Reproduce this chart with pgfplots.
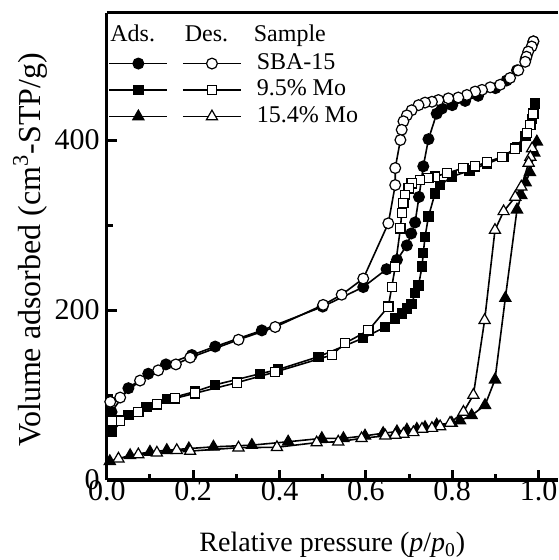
\documentclass[border=0pt]{standalone}
\usepackage{pgfplots}
\pgfplotsset{compat=1.18}
\usepackage{fontspec}
\setmainfont{Liberation Serif}
\begin{document}
\fontsize{14}{16}\selectfont
\begin{tikzpicture}
\begin{axis}[
 scale only axis, width=225.6pt, height=233.75pt,
 xmin=0, xmax=1.045, ymin=0, ymax=550,
 axis lines=left, axis line style={-, line width=1.5pt},
 clip=false,
 xtick={0,0.2,0.4,0.6,0.8,1.0}, minor x tick num=1,
 ytick={0,200,400}, minor y tick num=1,
 tick align=inside,
 major tick length=5pt, minor tick length=3pt,
 every tick/.style={black, line width=1.5pt},
 tick label style={font=\fontsize{15}{17}\selectfont},
 /pgf/number format/assume math mode=true,
 xticklabel style={inner sep=0pt, /pgf/number format/.cd, fixed, fixed zerofill, precision=1},
 yticklabel style={inner sep=0pt, xshift=-3.4pt},
 xlabel={Relative pressure (\textit{p}/\textit{p}\textsubscript{0})},
 ylabel={Volume adsorbed (cm\textsuperscript{3}-STP/g)},
 every axis x label/.style={at={(axis description cs:0.5,-0.154)}, anchor=base, font=\fontsize{14}{16}\selectfont},
 every axis y label/.style={at={(axis description cs:-0.170,0.492)}, rotate=90, anchor=center, font=\fontsize{16}{18}\selectfont},
 legend columns=2,
 legend style={at={(axis description cs:0.003,0.92)}, anchor=north west, draw=none, fill=none,
   font=\fontsize{12}{15}\selectfont, row sep=0pt, column sep=3pt, inner sep=0pt,
   nodes={inner sep=0pt, text height=9.5pt, text depth=3.75pt}},
 legend cell align=left,
 legend image code/.code={\draw[mark repeat=2,mark phase=2,#1] plot coordinates {(0pt,0pt) (14.5pt,0pt) (29pt,0pt)};},
 every axis plot/.append style={black, line width=0.8pt},
]
% SBA-15 adsorption
\addplot[mark=*, mark size=2.7pt, mark options={solid, fill=black, line width=0.6pt}] coordinates {
(0.011,80)(0.05,108)(0.096,125)(0.137,136)(0.197,147)(0.251,157)(0.359,176)(0.50,204)(0.594,227)(0.648,248)(0.672,259)(0.695,276)(0.705,290)(0.714,303)(0.723,333)(0.733,369)(0.745,401)(0.764,431)(0.776,437)(0.80,441)(0.83,446)(0.86,452)(0.90,461)(0.926,470)(0.95,482)(0.97,495)(0.988,516)};
\addlegendentry{\mbox{}}
% SBA-15 desorption
\addplot[mark=*, mark size=2.7pt, mark options={solid, fill=white, line width=0.6pt}] coordinates {
(0.988,516)(0.984,510)(0.976,504)(0.972,498)(0.969,492)(0.953,482)(0.934,473)(0.911,465)(0.888,462)(0.869,459)(0.853,457)(0.834,453)(0.814,450)(0.791,449)(0.768,447)(0.753,445)(0.737,444)(0.722,441)(0.706,435)(0.695,429)(0.687,422)(0.683,412)(0.680,400)(0.668,367)(0.668,347)(0.652,302)(0.594,237)(0.544,218)(0.501,206)(0.390,180)(0.305,165)(0.193,144)(0.160,136)(0.119,129)(0.077,117)(0.031,97)(0.008,92)};
\addlegendentry{\hspace*{4.5pt}SBA-15}
% 9.5% Mo adsorption
\addplot[mark=square*, mark size=2.3pt, mark options={solid, fill=black, line width=0.6pt}] coordinates {
(0.011,57)(0.05,76.5)(0.092,86)(0.139,95)(0.204,104)(0.251,112)(0.355,125)(0.397,130)(0.49,145)(0.594,167)(0.645,180)(0.668,190)(0.683,196)(0.695,202)(0.706,207)(0.714,220)(0.722,229)(0.730,251)(0.733,267)(0.737,286)(0.745,310)(0.760,337)(0.772,347)(0.80,357)(0.84,364)(0.88,372)(0.92,380)(0.95,392)(0.97,405)(0.985,425)(0.992,443)};
\addlegendentry{\mbox{}}
% 9.5% Mo desorption
\addplot[mark=square*, mark size=2.3pt, mark options={solid, fill=white, line width=0.6pt}] coordinates {
(0.988,431)(0.981,418)(0.973,408)(0.946,390)(0.915,380)(0.880,374)(0.853,369)(0.826,367)(0.788,361)(0.760,357)(0.745,355)(0.725,353)(0.706,349)(0.699,343)(0.691,335)(0.687,326)(0.683,314)(0.680,296)(0.668,251)(0.660,227)(0.652,204)(0.606,176)(0.552,161)(0.521,147)(0.390,127)(0.301,114.5)(0.204,102)(0.158,96)(0.116,89)(0.073,80)(0.031,70)(0.011,69)};
\addlegendentry{\hspace*{4.5pt}9.5\% Mo}
% 15.4% Mo adsorption
\addplot[mark=triangle*, mark size=3.2pt, mark options={solid, fill=black, line width=0.6pt}] coordinates {
(0.007,22)(0.054,29)(0.10,33)(0.139,35)(0.19,37)(0.247,39)(0.336,41)(0.42,45)(0.498,49)(0.548,49)(0.598,52)(0.64,55)(0.672,57)(0.695,59)(0.718,60)(0.737,62)(0.764,65)(0.799,67)(0.818,70)(0.845,76)(0.876,88)(0.899,118)(0.923,214)(0.95,318)(0.96,335)(0.97,350)(0.98,362)(0.99,385)(0.996,398)};
\addlegendentry{\mbox{}}
% 15.4% Mo desorption
\addplot[mark=triangle*, mark size=3.2pt, mark options={solid, fill=white, line width=0.6pt}] coordinates {
(0.985,390)(0.981,380)(0.977,373)(0.96,345)(0.946,333)(0.919,316)(0.899,294)(0.875,188)(0.849,100)(0.826,80)(0.795,67)(0.772,63)(0.753,61)(0.730,60)(0.710,56)(0.687,54)(0.668,53)(0.645,52)(0.59,49)(0.536,45)(0.486,44)(0.394,38.5)(0.305,38)(0.193,34)(0.162,35)(0.116,32)(0.073,30)(0.027,25)};
\addlegendentry{\hspace*{4.5pt}15.4\% Mo}
\draw[line width=1.5pt] (rel axis cs:0,1) -- (rel axis cs:1,1);
\node[anchor=base west, inner sep=0pt, font=\fontsize{12}{15}\selectfont] at (rel axis cs:0.007,0.9376) {Ads.};
\node[anchor=base west, inner sep=0pt, font=\fontsize{12}{15}\selectfont] at (rel axis cs:0.172,0.9376) {Des.};
\node[anchor=base west, inner sep=0pt, font=\fontsize{12}{15}\selectfont] at (rel axis cs:0.325,0.9376) {Sample};
\coordinate (BL) at (rel axis cs:0,0);
\coordinate (TR) at (rel axis cs:1,1);
\end{axis}
\pgfresetboundingbox
\useasboundingbox ([shift={(-53.4pt,-40pt)}]BL) rectangle ([shift={(0pt,6.25pt)}]TR);
\end{tikzpicture}
\end{document}
